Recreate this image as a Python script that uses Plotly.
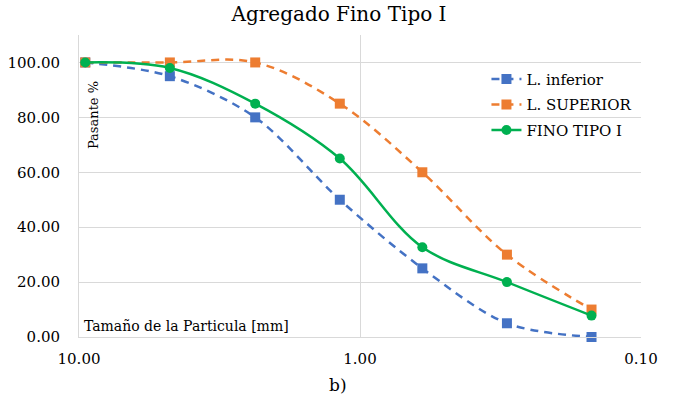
import plotly.graph_objects as go

sizes = [9.5, 4.75, 2.36, 1.18, 0.6, 0.3, 0.15]
l_inferior = [100, 95, 80, 50, 25, 5, 0]
l_superior = [100, 100, 100, 85, 60, 30, 10]
fino_tipo_i = [100, 98, 85, 65, 32.7, 20, 7.8]

x_ticks = [10, 1, 0.1]
x_tick_text = ["10.00", "1.00", "0.10"]
y_ticks = [0, 20, 40, 60, 80, 100]
y_tick_text = ["0.00", "20.00", "40.00", "60.00", "80.00", "100.00"]

FONT = "DejaVu Serif"
BLUE = "#4472C4"
ORANGE = "#ED7D31"
GREEN = "#00B050"
GRID = "#D9D9D9"

fig = go.Figure()
fig.add_trace(go.Scatter(
    x=sizes, y=l_inferior, name="L. inferior", mode="lines+markers", cliponaxis=False,
    legendgroup="a",
    line=dict(color=BLUE, width=2.5, dash="8px,6px", shape="spline", smoothing=0.9),
    marker=dict(symbol="square", size=10, color=BLUE)))
fig.add_trace(go.Scatter(
    x=sizes, y=l_superior, name="L. SUPERIOR", mode="lines+markers", cliponaxis=False,
    legendgroup="b",
    line=dict(color=ORANGE, width=2.5, dash="8px,6px", shape="spline", smoothing=1),
    marker=dict(symbol="square", size=10, color=ORANGE)))
fig.add_trace(go.Scatter(
    x=sizes, y=fino_tipo_i, name="FINO TIPO I", mode="lines+markers", cliponaxis=False,
    legendgroup="c",
    line=dict(color=GREEN, width=2.5, shape="spline", smoothing=1),
    marker=dict(symbol="circle", size=10, color=GREEN)))

fig.update_layout(
    width=673, height=398,
    margin=dict(l=79, r=32, t=35, b=61),
    paper_bgcolor="white", plot_bgcolor="white",
    font=dict(family=FONT, size=15, color="#000000"),
    title=dict(text="Agregado Fino Tipo I", x=(339 / 673), xanchor="center",
               y=1, yref="container", yanchor="top", pad=dict(t=7),
               font=dict(family=FONT, size=20, color="#000000")),
    showlegend=True,
    legend=dict(x=0.725, y=0.908, xanchor="left", yanchor="top",
                tracegroupgap=3,
                bgcolor="rgba(0,0,0,0)", font=dict(family=FONT, size=15)),
    xaxis=dict(type="log", range=[1, -1], tickvals=x_ticks, ticktext=x_tick_text,
               showgrid=True, gridcolor=GRID, gridwidth=1, automargin=False,
               showline=True, linecolor=GRID, linewidth=1, mirror=False,
               zeroline=False, ticks="", ticklabelstandoff=8,
               tickfont=dict(family=FONT, size=15)),
    yaxis=dict(range=[0, 110], tickvals=y_ticks, ticktext=y_tick_text,
               showgrid=True, gridcolor=GRID, gridwidth=1, automargin=False,
               showline=True, linecolor=GRID, linewidth=1,
               zeroline=False, ticks="", ticklabelstandoff=15,
               tickfont=dict(family=FONT, size=15)),
    annotations=[
        dict(text="Pasante %", textangle=-90, x=0.025, y=0.735, xref="paper", yref="paper",
             showarrow=False, font=dict(family=FONT, size=13), xanchor="center", yanchor="middle"),
        dict(text="Tamaño de la Particula [mm]", x=0.005, y=0.035, xref="paper", yref="paper",
             showarrow=False, font=dict(family=FONT, size=14), xanchor="left", yanchor="middle"),
        dict(text="b)", x=(338 - 79) / 562, y=-(385 - 337) / 302, xref="paper", yref="paper",
             showarrow=False, font=dict(family=FONT, size=17), xanchor="center", yanchor="middle"),
    ],
)

fig.write_html("out.html")
